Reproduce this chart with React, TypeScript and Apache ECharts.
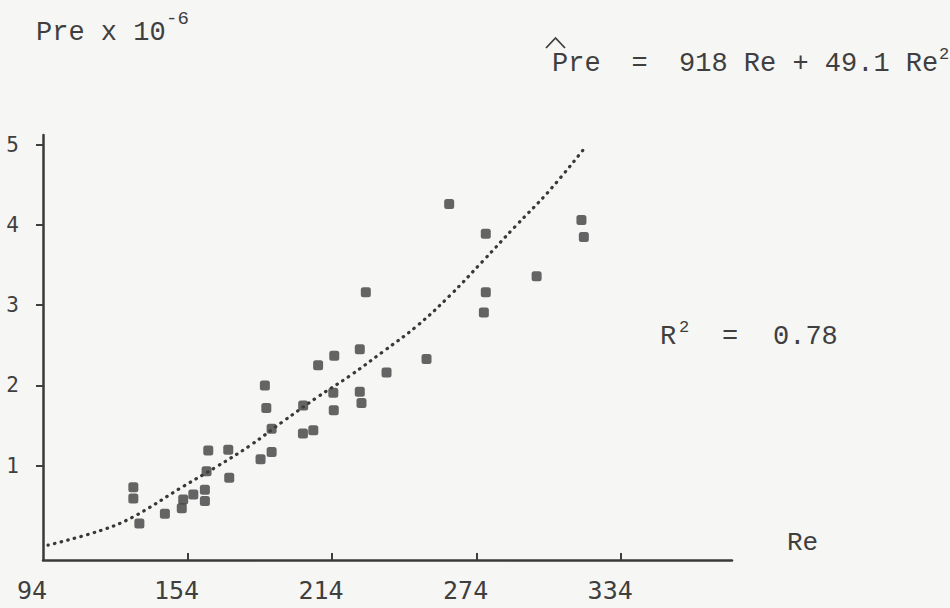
import React, { useEffect, useRef } from "react";
import * as echarts from "echarts";

// Observed data points (Re, Pre x 10^-6)
const reValues = [
  131.5, 131.5, 134.0, 144.6, 151.6, 152.2, 156.4, 161.2, 161.2, 161.9,
  162.6, 170.9, 171.3, 184.3, 188.9, 186.1, 186.7, 188.9, 202.0, 201.9,
  206.2, 208.2, 214.9, 214.5, 214.7, 225.5, 225.5, 226.2, 228.0, 236.6,
  253.2, 262.6, 277.8, 277.8, 277.0, 298.9, 317.5, 318.5,
];
const preValues = [
  0.73, 0.59, 0.28, 0.4, 0.47, 0.58, 0.64, 0.7, 0.56, 0.93,
  1.19, 1.2, 0.85, 1.08, 1.17, 2.0, 1.72, 1.46, 1.75, 1.4,
  1.44, 2.25, 2.37, 1.91, 1.69, 2.45, 1.92, 1.78, 3.16, 2.16,
  2.33, 4.26, 3.89, 3.16, 2.91, 3.36, 4.06, 3.85,
];

// Fitted curve
const fitRe = [96.1, 117.7, 131.3, 152.1, 166.2, 179.9, 193.6, 207.7, 221.4, 235.1, 249.2, 262.9, 276.6, 290.0, 304.0, 318.9];
const fitPre = [0.01, 0.19, 0.36, 0.74, 0.99, 1.25, 1.55, 1.85, 2.12, 2.42, 2.74, 3.12, 3.55, 3.98, 4.42, 4.96];

const xTickLabels = [94, 154, 214, 274, 334];
const xTickMarks = [154, 214, 274, 334];
const yTickLabels = [1, 2, 3, 4, 5];

const INK = "#3f3f3f";
const MONO = "Liberation Mono";

function txt(text: string, x: number, y: number, size: number, align = "left") {
  return {
    type: "text",
    x,
    y,
    style: {
      text,
      fontFamily: MONO,
      fontSize: size,
      fill: INK,
      textAlign: align,
      align,
      textVerticalAlign: "middle",
      verticalAlign: "middle",
    },
  };
}

export default function App() {
  const ref = useRef<HTMLDivElement>(null);
  useEffect(() => {
    const chart = echarts.init(ref.current!, null, { renderer: "svg" });
    chart.setOption({
      animation: false,
      backgroundColor: "#f6f6f4",
      grid: { left: 43, right: 218, top: 135, bottom: 48 },
      xAxis: {
        type: "value",
        min: 94,
        max: 380,
        splitLine: { show: false },
        axisLine: { onZero: false, lineStyle: { color: "#3a3a3a", width: 2.5 } },
        axisTick: {
          show: true,
          inside: true,
          length: 7,
          customValues: xTickMarks,
          lineStyle: { color: INK, width: 2 },
        },
        axisLabel: {
          customValues: xTickLabels,
          fontFamily: "DejaVu Sans Mono",
          fontSize: 25,
          color: INK,
          margin: 18,
          padding: [0, 22, 0, 0],
        },
      },
      yAxis: {
        type: "value",
        min: -0.175,
        max: 5.12,
        splitLine: { show: false },
        axisLine: { onZero: false, lineStyle: { color: "#3a3a3a", width: 2.5 } },
        axisTick: {
          show: true,
          length: 7,
          customValues: yTickLabels,
          lineStyle: { color: INK, width: 2 },
        },
        axisLabel: {
          customValues: yTickLabels,
          fontFamily: "DejaVu Sans Mono",
          fontSize: 21,
          color: INK,
          margin: 24,
        },
      },
      series: [
        {
          type: "line",
          data: fitRe.map((r, i) => [r, fitPre[i]]),
          smooth: 0.4,
          showSymbol: false,
          symbol: "none",
          lineStyle: { color: "#383838", width: 3.2, type: [0.5, 6.3], cap: "round" },
          z: 2,
        },
        {
          type: "scatter",
          data: reValues.map((r, i) => [r, preValues[i]]),
          symbol: "roundRect",
          symbolSize: 10,
          itemStyle: { color: "#404040" },
          z: 3,
        },
      ],
      graphic: [
        txt("Pre x 10", 36, 33, 27),
        txt("-6", 166, 19, 19),
        {
          type: "polyline",
          shape: { points: [[546, 48], [555.5, 38], [565, 48]] },
          style: { stroke: INK, lineWidth: 1.8, fill: "none" },
        },
        txt("Pre", 552, 64, 27),
        txt("=", 639.5, 64, 27, "center"),
        txt("918 Re + 49.1 Re", 679, 64, 27),
        txt("2", 939, 54, 17),
        txt("R", 660, 337, 27),
        txt("2", 679, 327, 17),
        txt("=", 730, 337, 27, "center"),
        txt("0.78", 773, 337, 27),
        txt("Re", 787, 543, 26),
      ],
    });
    return () => chart.dispose();
  }, []);
  return (
    <div
      ref={ref}
      style={{ position: "fixed", left: 0, top: 0, width: 950, height: 608 }}
    />
  );
}
